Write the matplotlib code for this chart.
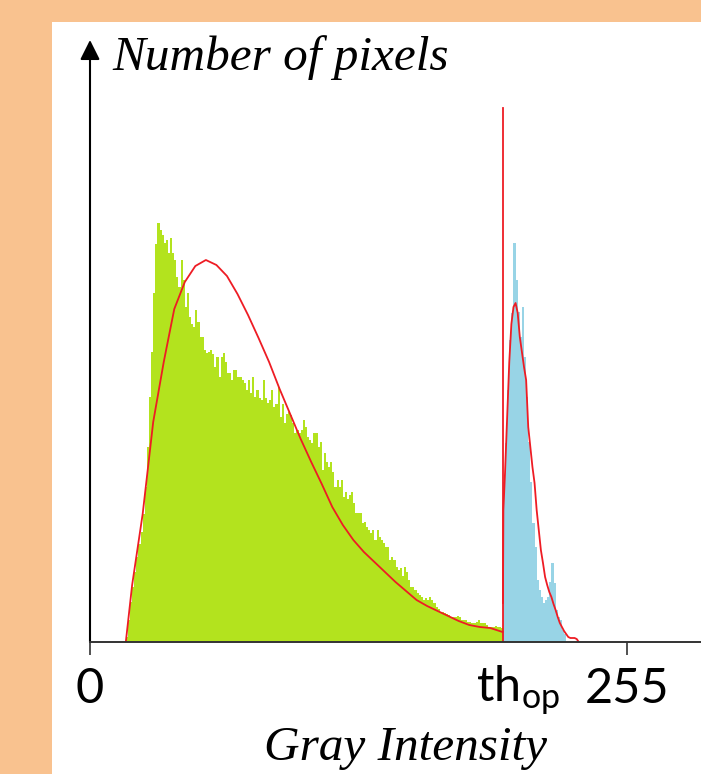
import numpy as np
import matplotlib
matplotlib.use("Agg")
import matplotlib.pyplot as plt
from matplotlib.patches import Rectangle

plt.rcParams.update({
    "font.family": "Lato",
    "mathtext.default": "regular",
})

# gray level where the two classes are split (th_op)
threshold = 196

# green class histogram, one value per gray level starting at green_start
green_start = 17
green_counts = [
    5, 22, 40, 55, 70, 85, 98, 110, 128, 155,
    195, 245, 290, 349, 398, 419, 412, 407, 399, 402,
    389, 404, 389, 382, 365, 355, 382, 362, 335, 349,
    325, 318, 315, 332, 320, 305, 305, 292, 289, 290,
    292, 288, 275, 285, 265, 285, 289, 280, 269, 269,
    262, 272, 272, 265, 265, 262, 259, 252, 262, 249,
    265, 245, 252, 244, 242, 262, 244, 239, 242, 252,
    235, 238, 255, 225, 238, 219, 228, 230, 227, 219,
    209, 212, 209, 212, 222, 215, 205, 202, 199, 209,
    209, 195, 200, 172, 189, 180, 175, 180, 170, 155,
    162, 155, 162, 145, 150, 143, 147, 150, 139, 129,
    129, 129, 119, 120, 115, 112, 109, 112, 102, 112,
    105, 102, 99, 95, 95, 82, 85, 82, 75, 72,
    74, 66, 75, 70, 62, 55, 55, 52, 49, 47,
    45, 42, 44, 42, 45, 42, 39, 35, 33, 30,
    30, 29, 28, 27, 25, 25, 25, 26, 25, 22,
    22, 22, 20, 20, 19, 19, 20, 22, 19, 19,
    19, 17, 15, 15, 15, 16, 15, 15, 14,
]

# blue class histogram, starting at the threshold
blue_counts = [
    160, 199, 252, 302, 329, 399, 362, 330, 305, 335,
    285, 245, 200, 160, 119, 95, 62, 52, 45, 39,
    42, 45, 60, 79, 59, 32, 25, 22, 12, 8,
]

# fitted curve for the green class (gray level, count)
green_fit_x = [17, 20, 25, 30, 35, 40, 45, 50, 55, 60, 65, 70, 75, 80, 85, 90,
               95, 100, 105, 110, 115, 120, 125, 130, 135, 140, 145, 150, 155,
               160, 165, 170, 175, 180, 185, 190, 195.8]
green_fit_y = [0, 57, 128, 220, 280, 333, 360, 376, 382, 377, 366, 348, 327,
               304, 280, 253, 228, 203, 180, 158, 135, 117, 102, 90, 80, 70, 60,
               51, 42, 36, 31, 26, 21, 17, 15, 14, 10]

# fitted curve for the blue class
blue_fit_x = [196, 196.2, 197, 198, 199, 200, 201, 202, 203, 204, 205, 206, 207,
              208, 209, 210, 211, 212, 213, 214, 215, 216, 217, 218, 219, 220,
              221, 222, 223, 224, 225, 226, 227, 228, 229, 230, 231, 232]
blue_fit_y = [39, 132, 170, 225, 280, 318, 335, 339, 329, 305, 290, 275, 262,
              215, 195, 175, 159, 132, 112, 92, 79, 65, 57, 50, 45, 38, 32, 25,
              19, 15, 11, 8, 5, 4, 4, 4, 3, 0]

threshold_line_height = 534

W, H = 701, 774
fig = plt.figure(figsize=(W / 100, H / 100), dpi=100)
fig.patch.set_facecolor("#F9C28F")
fig.patches.append(Rectangle((52 / W, 0), 1 - 52 / W, 1 - 22 / H,
                             transform=fig.transFigure, facecolor="white",
                             edgecolor="none", zorder=-10))

ax = fig.add_axes([90 / W, 132 / H, 611 / W, 600 / H])
ax.patch.set_alpha(0)

green_edges = np.arange(green_start, green_start + len(green_counts) + 1)
blue_edges = np.arange(threshold, threshold + len(blue_counts) + 1)
ax.stairs(green_counts, green_edges, fill=True, color="#B3E31E", lw=0)
ax.stairs(blue_counts, blue_edges, fill=True, color="#98D4E6", lw=0)

red = "#EE1C24"
ax.plot(green_fit_x, green_fit_y, color=red, lw=1.3, zorder=3)
ax.plot(blue_fit_x, blue_fit_y, color=red, lw=1.3, zorder=3)
ax.plot([threshold - 0.2, threshold - 0.2], [0, threshold_line_height],
        color=red, lw=1.3, zorder=3)

ax.set_xlim(0, 290)
ax.set_ylim(0, 600)

for side in ["left", "right", "top"]:
    ax.spines[side].set_visible(False)
ax.spines["bottom"].set_color("#333333")
ax.spines["bottom"].set_linewidth(1.4)
ax.spines["bottom"].set_zorder(4)

# y axis with arrow head
ax.annotate("", xy=(0, 602), xytext=(0, 0),
            arrowprops=dict(arrowstyle="-|>", color="black", lw=1.5,
                            mutation_scale=30, shrinkA=0, shrinkB=0),
            annotation_clip=False)

ax.set_yticks([])
ax.set_xticks([0, 255], ["0", "255"])
ax.set_xticks([203.2], [r"th$_{\mathregular{op}}$"], minor=True)
ax.tick_params(axis="x", which="major", direction="out", length=9, width=1.2,
               color="#333333", pad=9, labelsize=35)
ax.tick_params(axis="x", which="minor", length=0, pad=15.5, labelsize=35)

fig.text(112 / W, 1 - 70 / H, "Number of pixels", family="Liberation Serif",
         style="italic", fontsize=35.5, va="baseline", ha="left")
fig.text(406 / W, 1 - 760 / H, "Gray Intensity", family="Liberation Serif",
         style="italic", fontsize=35.5, va="baseline", ha="center")

fig.savefig("out.png", dpi=100, facecolor=fig.get_facecolor())
